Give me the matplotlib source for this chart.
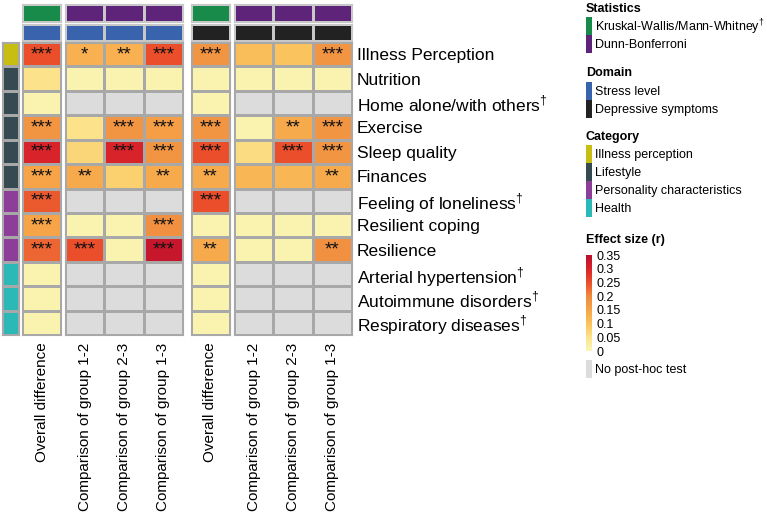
import numpy as np
import matplotlib
matplotlib.use("Agg")
import matplotlib.pyplot as plt
from matplotlib.colors import LinearSegmentedColormap, ListedColormap, Normalize
from matplotlib.patches import Rectangle

plt.rcParams["font.family"] = ["Liberation Sans", "DejaVu Sans"]
plt.rcParams["mathtext.fontset"] = "custom"
plt.rcParams["mathtext.rm"] = "Liberation Sans"

nan = np.nan

# ---------------- data ----------------
rows = ["Illness Perception", "Nutrition", r"Home alone/with others$^{\dagger}$", "Exercise",
        "Sleep quality", "Finances", r"Feeling of loneliness$^{\dagger}$", "Resilient coping",
        "Resilience", r"Arterial hypertension$^{\dagger}$", r"Autoimmune disorders$^{\dagger}$",
        r"Respiratory diseases$^{\dagger}$"]
row_category = [0, 1, 1, 1, 1, 1, 2, 2, 2, 3, 3, 3]
category_names = ["Illness perception", "Lifestyle", "Personality characteristics", "Health"]
category_colors = ["#C8BD12", "#354A51", "#8C3E98", "#2BB8B6"]

statistics_names = [r"Kruskal-Wallis/Mann-Whitney$^{\dagger}$", "Dunn-Bonferroni"]
statistics_colors = ["#188A49", "#5D2479"]
domain_names = ["Stress level", "Depressive symptoms"]
domain_colors = ["#3A63AD", "#222222"]

col_overall = ["Overall difference"]
col_posthoc = ["Comparison of group 1-2", "Comparison of group 2-3", "Comparison of group 1-3"]

# effect sizes (r); nan = no post-hoc test
stress_overall = [0.25, 0.05, 0.01, 0.18, 0.30, 0.15, 0.24, 0.15, 0.23, 0.01, 0.01, 0.01]
stress_12 = [0.13, 0.01, nan, 0.05, 0.07, 0.14, nan, 0.01, 0.25, nan, nan, nan]
stress_23 = [0.13, 0.01, nan, 0.18, 0.30, 0.08, nan, 0.01, 0.01, nan, nan, nan]
stress_13 = [0.25, 0.01, nan, 0.16, 0.18, 0.14, nan, 0.19, 0.33, nan, nan, nan]
dep_overall = [0.18, 0.01, 0.01, 0.18, 0.25, 0.14, 0.25, 0.01, 0.14, 0.01, 0.01, 0.01]
dep_12 = [0.11, 0.01, nan, 0.01, 0.06, 0.12, nan, 0.01, 0.01, nan, nan, nan]
dep_23 = [0.10, 0.01, nan, 0.14, 0.25, 0.12, nan, 0.01, 0.01, nan, nan, nan]
dep_13 = [0.18, 0.01, nan, 0.18, 0.18, 0.14, nan, 0.01, 0.19, nan, nan, nan]

# significance
sig_stress_overall = ["***", "", "", "***", "***", "***", "***", "***", "***", "", "", ""]
sig_stress_12 = ["*", "", "", "", "", "**", "", "", "***", "", "", ""]
sig_stress_23 = ["**", "", "", "***", "***", "", "", "", "", "", "", ""]
sig_stress_13 = ["***", "", "", "***", "***", "**", "", "***", "***", "", "", ""]
sig_dep_overall = ["***", "", "", "***", "***", "**", "***", "", "**", "", "", ""]
sig_dep_12 = ["", "", "", "", "", "", "", "", "", "", "", ""]
sig_dep_23 = ["", "", "", "**", "***", "", "", "", "", "", "", ""]
sig_dep_13 = ["***", "", "", "***", "***", "**", "", "", "**", "", "", ""]

cbar_ticks = [0, 0.05, 0.1, 0.15, 0.2, 0.25, 0.3, 0.35]
cbar_ticklabels = ["0", "0.05", "0.1", "0.15", "0.2", "0.25", "0.3", "0.35"]

# ---------------- style ----------------
W, H = 767, 514
fig = plt.figure(figsize=(W / 100, H / 100), dpi=100)
cmap = LinearSegmentedColormap.from_list(
    "eff", ["#FAF6B8", "#FCE28A", "#FAC35D", "#F6A447", "#F08A3E", "#EA4E2B", "#D9232A", "#BC0F2D"])
cmap.set_bad("#DCDCDC")
norm = Normalize(0, 0.35)
GRID = "#A8A8A8"
LW = 0.8


def ax_px(x0, y0, x1, y1):
    return fig.add_axes([x0 / W, 1 - y1 / H, (x1 - x0) / W, (y1 - y0) / H])


def style(ax):
    ax.set_xticks([])
    ax.set_yticks([])
    for s in ax.spines.values():
        s.set_color(GRID)
        s.set_linewidth(LW)


nrow = len(rows)
Y_TOP, Y_BOT = 42, 335

# category column
axc = ax_px(2, Y_TOP, 19, Y_BOT)
axc.pcolormesh(np.array(row_category).reshape(-1, 1), cmap=ListedColormap(category_colors),
               vmin=-0.5, vmax=3.5, edgecolors=GRID, linewidth=LW)
axc.set_ylim(nrow, 0)
style(axc)

blocks = [
    (22, 61, [stress_overall], [sig_stress_overall], 0, 0, col_overall),
    (65, 183, [stress_12, stress_23, stress_13], [sig_stress_12, sig_stress_23, sig_stress_13], 1, 0, col_posthoc),
    (191, 230, [dep_overall], [sig_dep_overall], 0, 1, col_overall),
    (234, 352, [dep_12, dep_23, dep_13], [sig_dep_12, sig_dep_23, sig_dep_13], 1, 1, col_posthoc),
]

mesh = None
for bi, (x0, x1, cols, sigs, stat, dom, labels) in enumerate(blocks):
    ncol = len(cols)
    # statistics row
    a1 = ax_px(x0, 4, x1, 21.5)
    a1.pcolormesh(np.full((1, ncol), stat), cmap=ListedColormap(statistics_colors), vmin=-0.5, vmax=1.5,
                  edgecolors="#C8C8C8", linewidth=LW)
    style(a1)
    for s in a1.spines.values():
        s.set_color("#C8C8C8")
    # domain row
    a2 = ax_px(x0, 23.5, x1, 41)
    a2.pcolormesh(np.full((1, ncol), dom), cmap=ListedColormap(domain_colors), vmin=-0.5, vmax=1.5,
                  edgecolors="#C8C8C8", linewidth=LW)
    style(a2)
    for s in a2.spines.values():
        s.set_color("#C8C8C8")
    # data
    ax = ax_px(x0, Y_TOP, x1, Y_BOT)
    data = np.ma.masked_invalid(np.column_stack(cols))
    mesh = ax.pcolormesh(data, cmap=cmap, norm=norm, edgecolors=GRID, linewidth=LW)
    ax.set_ylim(nrow, 0)
    ax.set_xlim(0, ncol)
    style(ax)
    for j, sc in enumerate(sigs):
        for i, s in enumerate(sc):
            if s:
                ax.text(j + 0.5, i + 0.52, s, ha="center", va="center", fontsize=13.5, color="#111111")
    ax.set_xticks(np.arange(ncol) + 0.5)
    ax.set_xticklabels(labels, rotation=90, fontsize=11)
    ax.tick_params(axis="x", length=0, pad=5.5)
    if bi == len(blocks) - 1:
        ax.yaxis.tick_right()
        ax.set_yticks(np.arange(nrow) + 0.5)
        ax.set_yticklabels(rows, fontsize=12.5)
        ax.tick_params(axis="y", length=0, pad=3.5)

# ---------------- legend ----------------
LX = 586
TX = 595
FS = 9


def header(y, txt):
    fig.text(LX / W, 1 - y / H, txt, fontsize=9, fontweight="bold", va="center", ha="left")


def item(y0, y1, color, txt):
    fig.add_artist(Rectangle((LX / W, 1 - y1 / H), 6 / W, (y1 - y0) / H, transform=fig.transFigure,
                             facecolor=color, edgecolor="none"))
    fig.text(TX / W, 1 - ((y0 + y1) / 2 + 1) / H, txt, fontsize=FS, va="center", ha="left")


header(8.5, "Statistics")
for k in range(2):
    item(17 + 18 * k, 35 + 18 * k, statistics_colors[k], statistics_names[k])
header(73, "Domain")
for k in range(2):
    item(82 + 18 * k, 100 + 18 * k, domain_colors[k], domain_names[k])
header(137, "Category")
for k in range(4):
    item(145 + 18 * k, 163 + 18 * k, category_colors[k], category_names[k])
header(240, "Effect size (r)")

cax = ax_px(LX, 255, LX + 6, 351)
cb = fig.colorbar(mesh, cax=cax, ticks=cbar_ticks)
cb.set_ticklabels(cbar_ticklabels)
cb.outline.set_visible(False)
cax.tick_params(length=0, pad=3, labelsize=FS)
item(360, 378, "#DCDCDC", "No post-hoc test")

fig.savefig("out.png", dpi=100)
